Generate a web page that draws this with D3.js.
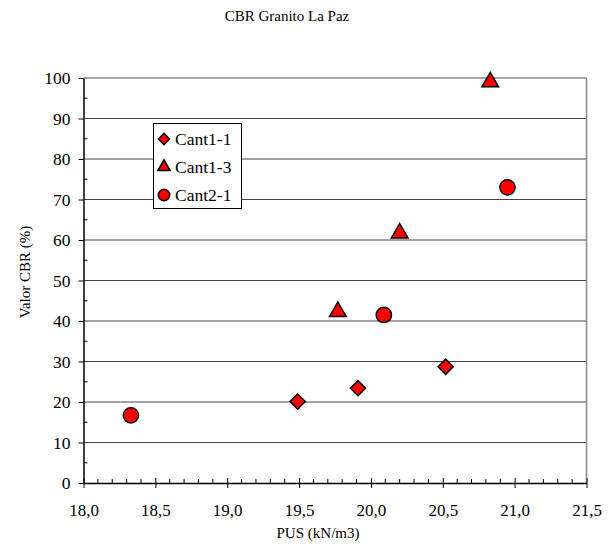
<!DOCTYPE html>
<html>
<head>
<meta charset="utf-8">
<script src="https://cdn.jsdelivr.net/npm/d3@7"></script>
<style>
  body { margin: 0; background: #fff; }
  svg text { font-family: "Liberation Serif", "Times New Roman", serif; fill: #000; }
</style>
</head>
<body>
<svg id="chart" width="616" height="553"></svg>
<script>
// data
const seriesNames = ['Cant1-1', 'Cant1-3', 'Cant2-1'];
const cant11X = [19.49, 19.91, 20.52];
const cant11Y = [20.1, 23.4, 28.7];
const cant13X = [19.77, 20.20, 20.83];
const cant13Y = [42.3, 61.7, 99.0];
const cant21X = [18.33, 20.09, 20.95];
const cant21Y = [16.7, 41.5, 73.0];
const xTicks = [18.0, 18.5, 19.0, 19.5, 20.0, 20.5, 21.0, 21.5];
const yTicks = [0, 10, 20, 30, 40, 50, 60, 70, 80, 90, 100];

const plotLeft = 83.5, plotRight = 586.5, plotTop = 78, plotBottom = 483;

const svg = d3.select('#chart');

const x = d3.scaleLinear().domain([18, 21.5]).range([plotLeft, plotRight]);
const y = d3.scaleLinear().domain([0, 100]).range([plotBottom, plotTop]);

// grid lines
svg.append('g')
  .selectAll('line')
  .data(yTicks.filter(d => d > 0))
  .enter()
  .append('line')
  .attr('x1', plotLeft)
  .attr('x2', plotRight)
  .attr('y1', d => y(d))
  .attr('y2', d => y(d))
  .attr('stroke', d => d === 100 ? '#888' : '#444')
  .attr('stroke-width', d => d === 100 ? 1.5 : 1);

// right border
svg.append('line')
  .attr('x1', plotRight).attr('x2', plotRight)
  .attr('y1', plotTop).attr('y2', plotBottom)
  .attr('stroke', '#888').attr('stroke-width', 1.5);

// minor ticks (inside)
const xMinor = d3.range(18.1, 21.5, 0.1).filter(v => Math.abs(v * 2 - Math.round(v * 2)) > 0.01);
svg.append('g')
  .selectAll('line')
  .data(xMinor)
  .enter()
  .append('line')
  .attr('x1', d => x(d)).attr('x2', d => x(d))
  .attr('y1', plotBottom).attr('y2', plotBottom - 4)
  .attr('stroke', '#000');

svg.append('g')
  .selectAll('line')
  .data(d3.range(5, 100, 10))
  .enter()
  .append('line')
  .attr('x1', plotLeft).attr('x2', plotLeft + 4)
  .attr('y1', d => y(d)).attr('y2', d => y(d))
  .attr('stroke', '#000');

// y axis
const yAxis = d3.axisLeft(y).tickValues(yTicks).tickSize(5).tickSizeOuter(0).tickPadding(8);
const gy = svg.append('g')
  .attr('transform', `translate(${plotLeft},0)`)
  .call(yAxis);
gy.select('.domain').attr('stroke', '#000').attr('stroke-width', 1.5);
gy.selectAll('.tick line').attr('stroke', '#000');
gy.selectAll('.tick text')
  .attr('font-family', 'Liberation Serif')
  .attr('font-size', 17.5)
  .attr('fill', '#000');

// x axis
const xAxis = d3.axisBottom(x).tickValues(xTicks).tickSize(5).tickSizeOuter(0).tickPadding(16)
  .tickFormat(d => d3.format('.1f')(d).replace('.', ','));
const gx = svg.append('g')
  .attr('transform', `translate(0,${plotBottom})`)
  .call(xAxis);
gx.select('.domain').attr('stroke', '#000').attr('stroke-width', 1.5);
gx.selectAll('.tick line').attr('stroke', '#000').attr('y1', -5).attr('y2', 5);
gx.selectAll('.tick text')
  .attr('font-family', 'Liberation Serif')
  .attr('font-size', 17)
  .attr('fill', '#000');

// titles
svg.append('text')
  .attr('x', 287).attr('y', 21)
  .attr('text-anchor', 'middle')
  .attr('font-size', 15)
  .text('CBR Granito La Paz');

svg.append('text')
  .attr('x', 318).attr('y', 538)
  .attr('text-anchor', 'middle')
  .attr('font-size', 15)
  .text('PUS (kN/m3)');

svg.append('text')
  .attr('transform', 'translate(30,272) rotate(-90)')
  .attr('text-anchor', 'middle')
  .attr('font-size', 15)
  .text('Valor CBR (%)');

// markers
const shapes = [
  { type: d3.symbolSquare, size: 115, rot: 45 },
  { type: d3.symbolTriangle, size: 120, rot: 0 },
  { type: d3.symbolCircle, size: 185, rot: 0 }
];
const seriesX = [cant11X, cant13X, cant21X];
const seriesY = [cant11Y, cant13Y, cant21Y];

seriesNames.forEach(function (name, s) {
  const pts = seriesX[s].map((v, i) => [v, seriesY[s][i]]);
  svg.append('g')
    .selectAll('path')
    .data(pts)
    .enter()
    .append('path')
    .attr('d', d3.symbol().type(shapes[s].type).size(shapes[s].size))
    .attr('transform', d => `translate(${x(d[0])},${y(d[1])}) rotate(${shapes[s].rot})`)
    .attr('fill', '#ff0000')
    .attr('stroke', '#000')
    .attr('stroke-width', 1.5);
});

// legend
const legend = svg.append('g');
legend.append('rect')
  .attr('x', 153.5).attr('y', 123.5)
  .attr('width', 88).attr('height', 85)
  .attr('fill', '#fff')
  .attr('stroke', '#000');

seriesNames.forEach(function (name, s) {
  const ly = 139 + s * 28;
  legend.append('path')
    .attr('d', d3.symbol().type(shapes[s].type).size(shapes[s].size * 0.55))
    .attr('transform', `translate(164,${ly}) rotate(${shapes[s].rot})`)
    .attr('fill', '#ff0000')
    .attr('stroke', '#000')
    .attr('stroke-width', 1.5);
  legend.append('text')
    .attr('x', 175).attr('y', ly + 6)
    .attr('font-size', 17.5)
    .text(name);
});
</script>
</body>
</html>
